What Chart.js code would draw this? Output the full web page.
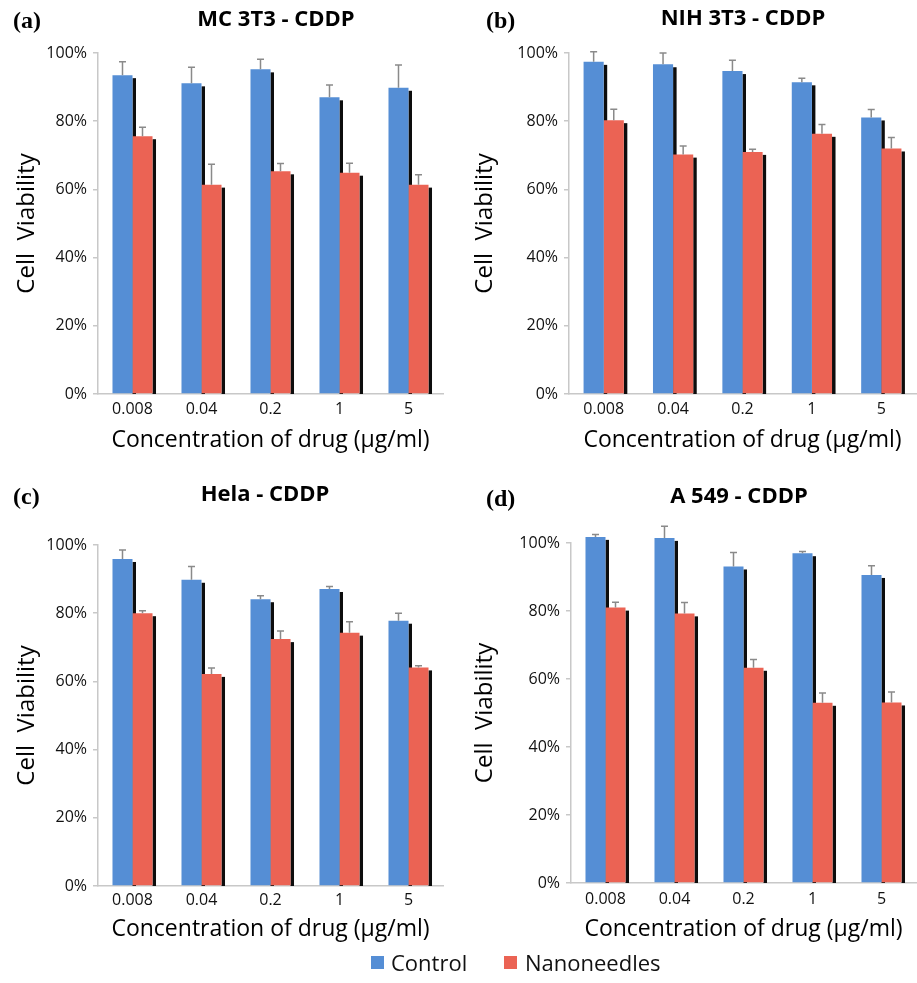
<!DOCTYPE html>
<html>
<head>
<meta charset="utf-8">
<script src="https://cdn.jsdelivr.net/npm/chart.js@4.4.0/dist/chart.umd.min.js"></script>
<style>
  html, body { margin: 0; padding: 0; background: #fff; }
  #page { position: relative; width: 917px; height: 983px; overflow: hidden; background: #fff; }
  canvas { position: absolute; }
  .leg { position: absolute; font-family: "Open Sans", sans-serif; font-size: 22px; color: #111; line-height: 26px; }
  .sw { position: absolute; width: 13px; height: 13px; }
</style>
</head>
<body>
<div id="page">
  <canvas id="ca"></canvas>
  <canvas id="cb"></canvas>
  <canvas id="cc"></canvas>
  <canvas id="cd"></canvas>
  <div class="sw" style="left:371px; top:956px; background:#558ED5;"></div>
  <div class="leg" style="left:391px; top:949px;">Control</div>
  <div class="sw" style="left:504px; top:956px; background:#EB6354;"></div>
  <div class="leg" style="left:525px; top:949px;">Nanoneedles</div>
</div>
<script>
// ---- data ----
const categories = ['0.008', '0.04', '0.2', '1', '5'];
const seriesNames = ['Control', 'Nanoneedles'];
const yTicks = [0, 20, 40, 60, 80, 100];

const mc3t3Control    = [93.5, 91.1, 95.2, 87.0, 89.8];
const mc3t3ControlErr = [3.9, 4.7, 3.0, 3.6, 6.7];
const mc3t3Nano       = [75.6, 61.4, 65.3, 64.9, 61.4];
const mc3t3NanoErr    = [2.6, 6.0, 2.3, 2.8, 2.9];

const nihControl    = [97.4, 96.7, 94.7, 91.4, 81.1];
const nihControlErr = [3.0, 3.3, 3.2, 1.2, 2.3];
const nihNano       = [80.3, 70.2, 71.0, 76.3, 72.0];
const nihNanoErr    = [3.2, 2.5, 0.8, 2.7, 3.2];

const helaControl    = [95.9, 89.8, 84.1, 87.1, 77.8];
const helaControlErr = [2.6, 3.9, 1.0, 0.7, 2.2];
const helaNano       = [80.0, 62.2, 72.4, 74.3, 64.1];
const helaNanoErr    = [0.7, 1.7, 2.4, 3.2, 0.5];

const a549Control    = [101.8, 101.5, 93.1, 97.0, 90.6];
const a549ControlErr = [0.7, 3.4, 4.1, 0.5, 2.7];
const a549Nano       = [81.0, 79.3, 63.3, 53.0, 53.1];
const a549NanoErr    = [1.6, 3.2, 2.4, 2.9, 3.1];

const panelLetters = ['(a)', '(b)', '(c)', '(d)'];
const panelTitles = ['MC 3T3 - CDDP', 'NIH 3T3 - CDDP', 'Hela - CDDP', 'A 549 - CDDP'];
const yTitle = 'Cell  Viability';
const xTitle = 'Concentration of drug (\u00b5g/ml)';

// ---- styling / layout ----
const BLUE = '#558ED5';
const RED = '#EB6354';
const FONT = '"Open Sans", "DejaVu Sans", sans-serif';

const decor = {
  id: 'decor',
  beforeDatasetsDraw(chart) {
    const ctx = chart.ctx;
    const base = chart.scales.y.getPixelForValue(0);
    ctx.save();
    ctx.fillStyle = '#0d0d0d';
    chart.data.datasets.forEach((ds, i) => {
      chart.getDatasetMeta(i).data.forEach(bar => {
        const p = bar.getProps(['x', 'y', 'width'], true);
        ctx.fillRect(p.x + p.width / 2, p.y + 3, 3.5, base - p.y - 3);
      });
    });
    ctx.restore();
  },
  afterDatasetsDraw(chart) {
    const ctx = chart.ctx;
    const ys = chart.scales.y;
    ctx.save();
    ctx.strokeStyle = '#8a8a8a';
    ctx.lineWidth = 1.5;
    chart.data.datasets.forEach((ds, i) => {
      chart.getDatasetMeta(i).data.forEach((bar, j) => {
        const p = bar.getProps(['x', 'y'], true);
        const top = ys.getPixelForValue(ds.data[j] + ds.errors[j]);
        ctx.beginPath();
        ctx.moveTo(p.x, p.y);
        ctx.lineTo(p.x, top);
        ctx.moveTo(p.x - 3.5, top);
        ctx.lineTo(p.x + 3.5, top);
        ctx.stroke();
      });
    });
    ctx.restore();
  },
  afterDraw(chart, args, o) {
    const ctx = chart.ctx;
    ctx.save();
    ctx.fillStyle = '#000';
    ctx.textBaseline = 'middle';
    ctx.textAlign = 'left';
    ctx.font = 'bold 24px "Liberation Serif", serif';
    ctx.fillText(o.letter, o.letterX, o.letterY);
    ctx.textAlign = 'center';
    ctx.font = 'bold 22px ' + FONT;
    ctx.fillText(o.title, o.titleX, o.titleY);
    ctx.restore();
  }
};

function makePanel(id, geo, ctrl, ctrlErr, nano, nanoErr, idx) {
  const cv = document.getElementById(id);
  cv.width = geo.w; cv.height = geo.h;
  cv.style.left = geo.left + 'px'; cv.style.top = geo.top + 'px';
  const plotL = geo.plotL - geo.left, plotR = geo.plotR - geo.left;
  const plotT = geo.plotT - geo.top, plotB = geo.plotB - geo.top;
  return new Chart(cv, {
    type: 'bar',
    data: {
      labels: categories,
      datasets: [
        { label: seriesNames[0], data: ctrl, errors: ctrlErr, backgroundColor: BLUE },
        { label: seriesNames[1], data: nano, errors: nanoErr, backgroundColor: RED }
      ]
    },
    options: {
      responsive: false,
      animation: false,
      devicePixelRatio: 1,
      layout: { padding: { left: 0, top: plotT, right: geo.w - plotR, bottom: 0 } },
      datasets: { bar: { categoryPercentage: 0.58, barPercentage: 1.0, borderWidth: 0, clip: false } },
      plugins: {
        legend: { display: false },
        tooltip: { enabled: false },
        decor: {
          letter: panelLetters[idx], letterX: geo.letterX - geo.left, letterY: geo.letterY - geo.top,
          title: panelTitles[idx], titleX: geo.titleX - geo.left, titleY: geo.titleY - geo.top
        }
      },
      scales: {
        x: {
          afterFit(s) { s.height = geo.h - plotB; },
          grid: { display: false, drawTicks: false },
          border: { display: true, color: '#c8c8c8', width: 1.5 },
          ticks: { color: '#111', font: { family: FONT, size: 16 }, padding: geo.xTickPad },
          title: { display: true, text: xTitle, color: '#000', font: { family: FONT, size: 23 }, padding: { top: 0, bottom: geo.xTitlePad } }
        },
        y: {
          min: 0, max: 100,
          afterFit(s) { s.width = plotL; },
          afterBuildTicks(s) { s.ticks = yTicks.map(v => ({ value: v })); },
          grid: { drawOnChartArea: false, drawTicks: true, tickLength: 5, color: '#c8c8c8', lineWidth: 1.5 },
          border: { display: true, color: '#c8c8c8', width: 1.5 },
          ticks: { color: '#111', font: { family: FONT, size: 16 }, padding: 6, callback: v => v + '%' },
          title: { display: true, text: yTitle, color: '#000', font: { family: FONT, size: 24 }, padding: { top: 13, bottom: 0 } }
        }
      }
    },
    plugins: [decor]
  });
}

makePanel('ca', { left: 0, top: 0, w: 458, h: 470, plotL: 98, plotR: 443, plotT: 53, plotB: 394,
  letterX: 13, letterY: 22, titleX: 276, titleY: 20, xTickPad: 6, xTitlePad: 16 },
  mc3t3Control, mc3t3ControlErr, mc3t3Nano, mc3t3NanoErr, 0);
makePanel('cb', { left: 458, top: 0, w: 459, h: 470, plotL: 569, plotR: 916, plotT: 53, plotB: 394,
  letterX: 486, letterY: 22, titleX: 743, titleY: 19, xTickPad: 6, xTitlePad: 16 },
  nihControl, nihControlErr, nihNano, nihNanoErr, 1);
makePanel('cc', { left: 0, top: 470, w: 458, h: 478, plotL: 98, plotR: 443, plotT: 545, plotB: 886,
  letterX: 13, letterY: 498, titleX: 265, titleY: 495, xTickPad: 5, xTitlePad: 5 },
  helaControl, helaControlErr, helaNano, helaNanoErr, 2);
makePanel('cd', { left: 458, top: 470, w: 459, h: 478, plotL: 571, plotR: 916, plotT: 543, plotB: 883,
  letterX: 486, letterY: 500, titleX: 739, titleY: 497, xTickPad: 7, xTitlePad: 5 },
  a549Control, a549ControlErr, a549Nano, a549NanoErr, 3);
</script>
</body>
</html>
